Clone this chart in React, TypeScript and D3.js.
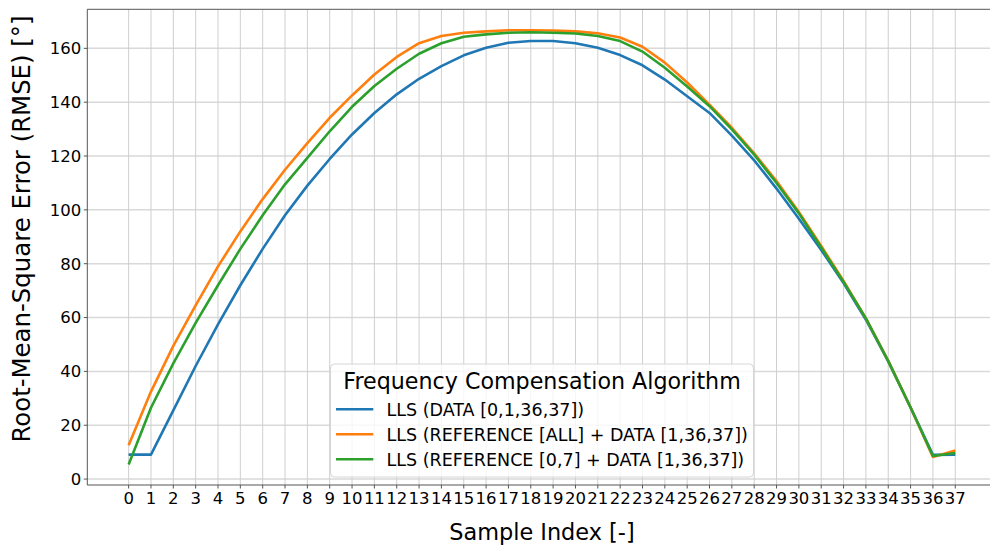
import React from "react";
import * as d3 from "d3";

const sampleIndex: number[] = d3.range(0, 38);
const xTicks: number[] = d3.range(0, 38);
const yTicks: number[] = [0, 20, 40, 60, 80, 100, 120, 140, 160];

const seriesNames: string[] = [
  "LLS (DATA [0,1,36,37])",
  "LLS (REFERENCE [ALL] + DATA [1,36,37])",
  "LLS (REFERENCE [0,7] + DATA [1,36,37])",
];
const seriesColors: string[] = ["#1f77b4", "#ff7f0e", "#2ca02c"];

const llsData: number[] = [
  9.1, 9.1, 25.5, 42, 57.5, 72, 85.5, 98, 109, 118.9, 128, 136, 142.9, 148.7,
  153.4, 157.4, 160.2, 162.1, 162.7, 162.7, 161.9, 160.2, 157.5, 153.7, 148.4,
  142.2, 136, 127.6, 118.4, 107.9, 96.7, 85.1, 72.8, 59.2, 43.7, 26.6, 9.0, 9.1,
];
const llsRefAll: number[] = [
  12.6, 32.5, 49.5, 64.5, 79, 92, 104, 114.9, 124.8, 134.2, 142.5, 150.3, 156.8,
  161.9, 164.6, 165.8, 166.3, 166.7, 166.7, 166.6, 166.3, 165.6, 164, 160.6,
  154.7, 147.3, 139.1, 130.5, 121, 110.7, 99.2, 86.6, 73.6, 59.7, 43.9, 26.6,
  8.2, 10.6,
];
const llsRef07: number[] = [
  5.4, 26.5, 43, 58, 72, 85.5, 98, 109.5, 119.3, 129.2, 138.3, 146, 152.4, 158,
  161.9, 164.3, 165.2, 165.8, 166, 165.8, 165.5, 164.6, 162.7, 158.8, 152.8,
  145.8, 138.5, 129.9, 120.5, 110, 98.7, 86, 73.2, 59.7, 43.8, 26.6, 8.6, 9.7,
];

const allSeries = [llsData, llsRefAll, llsRef07];

const W = 990;
const H = 548;
const left = 87.3;
const right = 996.6;
const top = 9.3;
const bottom = 485;
const FONT = "DejaVu Sans, sans-serif";

export default function App() {
  const x = d3.scaleLinear().domain([-1.85, 38.85]).range([left, right]);
  const y = d3.scaleLinear().domain([-2.2, 174.5]).range([bottom, top]);
  const line = d3
    .line<number>()
    .x((_, i) => x(sampleIndex[i]))
    .y((d) => y(d));

  const legX = 330.5;
  const legY = 364;
  const legW = 423;
  const legH = 113;

  return (
    <svg
      width={W}
      height={H}
      style={{ position: "absolute", left: 0, top: 0, background: "#fff" }}
      fontFamily={FONT}
    >
      <defs>
        <clipPath id="plot">
          <rect x={left} y={top} width={right - left} height={bottom - top} />
        </clipPath>
      </defs>
      <rect x={0} y={0} width={W} height={H} fill="#fff" />
      {/* grid */}
      {yTicks.map((t) => (
        <line
          key={"gy" + t}
          x1={left}
          x2={right}
          y1={y(t)}
          y2={y(t)}
          stroke="#d9d9d9"
          strokeWidth={1.5}
        />
      ))}
      {xTicks.map((t) => (
        <line
          key={"gx" + t}
          x1={x(t)}
          x2={x(t)}
          y1={top}
          y2={bottom}
          stroke="#cfcfcf"
          strokeWidth={1}
        />
      ))}
      {/* lines */}
      <g clipPath="url(#plot)">
        {allSeries.map((s, i) => (
          <path
            key={i}
            d={line(s) || ""}
            fill="none"
            stroke={seriesColors[i]}
            strokeWidth={2.6}
            strokeLinejoin="round"
            strokeLinecap="butt"
          />
        ))}
      </g>
      {/* spines */}
      <line x1={left} x2={left} y1={top} y2={bottom} stroke="#555" strokeWidth={1} />
      <line x1={left} x2={right} y1={bottom} y2={bottom} stroke="#555" strokeWidth={1} />
      <line x1={left} x2={right} y1={top} y2={top} stroke="#555" strokeWidth={1} />
      {/* y ticks */}
      {yTicks.map((t) => (
        <g key={"yt" + t}>
          <line x1={left - 3.5} x2={left} y1={y(t)} y2={y(t)} stroke="#555" strokeWidth={1} />
          <text
            x={left - 6}
            y={y(t)}
            dy="0.36em"
            textAnchor="end"
            fontSize={16.5}
            fill="#000"
          >
            {t}
          </text>
        </g>
      ))}
      {/* x ticks */}
      {xTicks.map((t) => (
        <g key={"xt" + t}>
          <line x1={x(t)} x2={x(t)} y1={bottom} y2={bottom + 3.5} stroke="#555" strokeWidth={1} />
          <text
            x={x(t)}
            y={503.5}
            textAnchor="middle"
            fontSize={16.5}
            fill="#000"
          >
            {t}
          </text>
        </g>
      ))}
      {/* axis labels */}
      <text x={(left + right) / 2} y={540} textAnchor="middle" fontSize={22.4} fill="#000">
        Sample Index [-]
      </text>
      <text
        transform={`translate(30, 229) rotate(-90)`}
        textAnchor="middle"
        fontSize={24.4}
        fill="#000"
      >
        Root-Mean-Square Error (RMSE) [°]
      </text>
      {/* legend */}
      <rect
        x={legX}
        y={legY}
        width={legW}
        height={legH}
        rx={4}
        fill="#fff"
        fillOpacity={0.8}
        stroke="#d6d6d6"
        strokeWidth={1}
      />
      <text x={legX + legW / 2} y={389} textAnchor="middle" fontSize={22.2} fill="#000">
        Frequency Compensation Algorithm
      </text>
      {seriesNames.map((n, i) => {
        const ry = 409.3 + i * 25;
        return (
          <g key={"lg" + i}>
            <line x1={336} x2={373.3} y1={ry} y2={ry} stroke={seriesColors[i]} strokeWidth={2.6} />
            <text x={386.5} y={ry} dy="0.36em" fontSize={17.5} fill="#000">
              {n}
            </text>
          </g>
        );
      })}
    </svg>
  );
}
